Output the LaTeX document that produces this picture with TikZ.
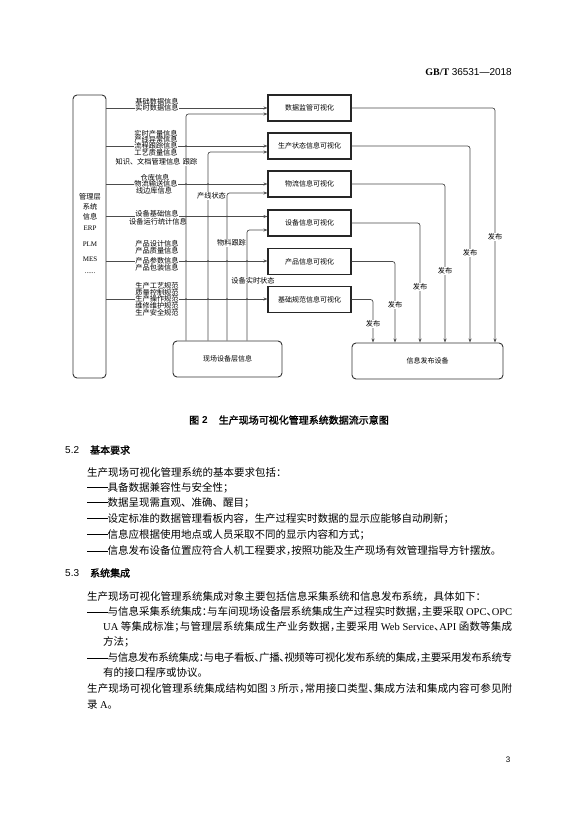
\documentclass[tikz,border=0pt]{standalone}
\usepackage{fontspec}
\setmainfont{Liberation Serif}
\newfontfamily\arial{Liberation Sans}
\newfontfamily\cjk{Noto Sans CJK SC}
\newfontfamily\cjkt{Noto Sans CJK SC}[RawFeature={+halt}]
\newfontfamily\cjkb{Noto Sans CJK SC}[FakeBold=1.5]
\usetikzlibrary{arrows.meta}
\XeTeXinterchartokenstate=1
\newcount\cjkcnt
\cjkcnt="4E00
\loop \XeTeXcharclass\cjkcnt=1 \advance\cjkcnt by 1 \ifnum\cjkcnt<"A000 \repeat
\cjkcnt="3000
\loop \XeTeXcharclass\cjkcnt=1 \advance\cjkcnt by 1 \ifnum\cjkcnt<"3040 \repeat
\cjkcnt="FF00
\loop \XeTeXcharclass\cjkcnt=1 \advance\cjkcnt by 1 \ifnum\cjkcnt<"FFF0 \repeat
\XeTeXinterchartoks 1 1 = {\hskip 0pt plus 2pt minus 0.6pt}
\newcommand\dfont{\fontsize{7.2}{7.5}\selectfont\cjk}
\newcommand\bfont{\fontsize{7}{7.5}\selectfont\cjk}
\newcommand\jline[1]{\makebox[425pt][s]{\cjkt #1}}
\newcommand\jlinei[1]{\makebox[409pt][s]{\cjkt #1}}
\newcommand\dashs{\rule[3.6pt]{20.5pt}{0.55pt}}
\tikzset{
  line/.style={draw=black!70, line width=0.7pt},
  flow/.style={line, -{Stealth[length=4pt,width=3pt]}},
  vbox/.style={draw=black!85, line width=1.1pt, minimum width=83pt, minimum height=26pt, inner sep=0pt, font=\bfont},
  rbox/.style={draw=black!80, line width=0.9pt, rounded corners=4pt, inner sep=0pt, font=\bfont},
  lab/.style={inner sep=0.2pt, font=\dfont},
  wlab/.style={lab, fill=white},
  ltxt/.style={inner sep=0pt, font=\fontsize{7}{7.5}\selectfont\rmfamily},
  body/.style={anchor=west, inner sep=0pt, font=\fontsize{10.5}{12}\selectfont\cjk},
  head/.style={anchor=west, inner sep=0pt, font=\fontsize{10}{12}\selectfont},
  dot/.style={fill=black!70},
}
\begin{document}
\begin{tikzpicture}[x=1pt,y=-1pt]
\fill[white] (0,0) rectangle (572,814);
\useasboundingbox (0,0) rectangle (572,814);

% header
\node[anchor=east, inner sep=0pt, font=\fontsize{10}{12}\selectfont] (hdr) at (512,72) {\bfseries GB/T {\arial\mdseries 36531—2018}};

% helper coordinates
\coordinate (h1) at (0,108);
\coordinate (h2) at (0,146);
\coordinate (h3) at (0,184);
\coordinate (h4) at (0,216.5);
\coordinate (h5) at (0,261);
\coordinate (h6) at (0,299);
\coordinate (e1) at (0,114);
\coordinate (e2) at (0,152);
\coordinate (e3) at (0,193);
\coordinate (e4) at (0,230);
\coordinate (v1) at (186,0);
\coordinate (v2) at (208,0);
\coordinate (v3) at (227,0);
\coordinate (v4) at (247,0);
\coordinate (o1) at (495,0);
\coordinate (o2) at (470,0);
\coordinate (o3) at (445,0);
\coordinate (o4) at (420,0);
\coordinate (o5) at (395,0);
\coordinate (o6) at (373,0);

% boxes
\node[rbox, minimum width=33pt, minimum height=283pt] (mgmt) at (89.5,236.5) {};
\node[vbox] (b1) at (309.5,108) {数据监管可视化};
\node[vbox] (b2) at (309.5,146) {生产状态信息可视化};
\node[vbox] (b3) at (309.5,184) {物流信息可视化};
\node[vbox] (b4) at (309.5,223) {设备信息可视化};
\node[vbox] (b5) at (309.5,261.5) {产品信息可视化};
\node[vbox] (b6) at (309.5,299.5) {基础规范信息可视化};
\node[rbox, minimum width=109pt, minimum height=36pt] (field) at (227.5,359) {现场设备层信息};
\node[rbox, minimum width=151pt, minimum height=36pt] (pub) at (427.5,361) {信息发布设备};

% left box text
\node[lab] (m1) at (90,197) {管理层};
\node[lab] (m2) at (90,207) {系统};
\node[lab] (m3) at (90,217) {信息};
\node[ltxt] (m4) at (90,228) {ERP};
\node[ltxt] (m5) at (90,244) {PLM};
\node[ltxt] (m6) at (90,259) {MES};
\node[ltxt] (m7) at (90,273) {......};

% lines from management box
\draw[flow] (mgmt.east |- h1) -- (b1.west |- h1);
\draw[flow] (mgmt.east |- h2) -- (b2.west |- h2);
\draw[flow] (mgmt.east |- h3) -- (b3.west |- h3);
\draw[flow] (mgmt.east |- h4) -- (b4.west |- h4);
\draw[flow] (mgmt.east |- h5) -- (b5.west |- h5);
\draw[flow] (mgmt.east |- h6) -- (b6.west |- h6);

% lines from field box
\draw[flow, rounded corners=2.5pt] (field.north -| v1) |- (b1.west |- e1);
\draw[flow, rounded corners=2.5pt] (field.north -| v2) |- (b2.west |- e2);
\draw[flow, rounded corners=2.5pt] (field.north -| v3) |- (b3.west |- e3);
\draw[flow, rounded corners=2.5pt] (field.north -| v4) |- (b4.west |- e4);

% outputs
\draw[flow, rounded corners=2.5pt] (b1.east) -| (pub.north -| o1);
\draw[flow, rounded corners=2.5pt] (b2.east) -| (pub.north -| o2);
\draw[flow, rounded corners=2.5pt] (b3.east) -| (pub.north -| o3);
\draw[flow, rounded corners=2.5pt] (b4.east) -| (pub.north -| o4);
\draw[flow, rounded corners=2.5pt] (b5.east) -| (pub.north -| o5);
\draw[flow, rounded corners=2.5pt] (b6.east) -| (pub.north -| o6);

% junction dots
\foreach \p in {v1 |- h2, v1 |- h3, v2 |- h3, v1 |- h4, v2 |- h4, v3 |- h4, v1 |- h5, v2 |- h5, v3 |- h5, v4 |- h5, v1 |- h6, v2 |- h6, v3 |- h6, v4 |- h6}
  \fill[dot] (\p) circle (0.8pt);

% labels on left lines
\node[lab] (a1) at (157,101.5) {基础数据信息};
\node[wlab] (a2) at (157,108) {实时数据信息};
\node[lab] (c1) at (156,134) {实时产量信息};
\node[lab] (c2) at (156,140) {产线异常信息};
\node[wlab] (c3) at (156,146) {流程跟踪信息};
\node[lab] (c4) at (156,152.5) {工艺质量信息};
\node[lab] (c5) at (148,161.5) {知识、文档管理信息};
\node[lab] (d1) at (155,177.5) {仓库信息};
\node[wlab] (d2) at (156,184) {物流输送信息};
\node[lab] (d3) at (154,191) {线边库信息};
\node[wlab] (f1) at (157,214) {设备基础信息};
\node[lab] (f2) at (158,221.5) {设备运行统计信息};
\node[lab] (g1) at (157,244) {产品设计信息};
\node[lab] (g2) at (157,251) {产品质量信息};
\node[wlab] (g3) at (157,261) {产品参数信息};
\node[lab] (g4) at (157,268) {产品包装信息};
\node[lab] (k1) at (157,286) {生产工艺规范};
\node[lab] (k2) at (157,292.5) {质量控制规范};
\node[wlab] (k3) at (157,299) {生产操作规范};
\node[lab] (k4) at (157,306) {维修维护规范};
\node[lab] (k5) at (157,313) {生产安全规范};

% labels on vertical lines
\node[wlab] (s1) at (190,162) {跟踪};
\node[wlab] (s2) at (211.5,196) {产线状态};
\node[wlab] (s3) at (231.5,243) {物料跟踪};
\node[wlab] (s4) at (253,280.5) {设备实时状态};

% publish labels
\node[wlab] (p1) at (495,237) {发布};
\node[wlab] (p2) at (470,253) {发布};
\node[wlab] (p3) at (445,271) {发布};
\node[wlab] (p4) at (420,287) {发布};
\node[wlab] (p5) at (395,305) {发布};
\node[wlab] (p6) at (373,324) {发布};

% caption
\node[inner sep=0pt, font=\fontsize{10}{12}\selectfont] (cap) at (289,420) {{\cjkb 图}\hspace{3pt}{\arial\bfseries 2}\hspace{11pt}{\cjkb 生产现场可视化管理系统数据流示意图}};

% section 5.2
\node[head] (s52) at (65,450) {{\arial 5.2}\hspace{11pt}{\cjkb 基本要求}};
\node[body] (t1) at (87,473) {生产现场可视化管理系统的基本要求包括：};
\node[body] (t2) at (87,488) {\dashs 具备数据兼容性与安全性；};
\node[body] (t3) at (87,503) {\dashs 数据呈现需直观、准确、醒目；};
\node[body] (t4) at (87,519) {\dashs 设定标准的数据管理看板内容，生产过程实时数据的显示应能够自动刷新；};
\node[body] (t5) at (87,535) {\dashs 信息应根据使用地点或人员采取不同的显示内容和方式；};
\node[body] (t6) at (87,551) {\dashs{\cjkt 信息发布设备位置应符合人机工程要求，按照功能及生产现场有效管理指导方针摆放。}};

% section 5.3
\node[head] (s53) at (65,573) {{\arial 5.3}\hspace{11pt}{\cjkb 系统集成}};
\node[body] (u1) at (87,597) {生产现场可视化管理系统集成对象主要包括信息采集系统和信息发布系统，具体如下：};
\node[body] (u2) at (87,612) {\jline{\dashs 与信息采集系统集成：与车间现场设备层系统集成生产过程实时数据，主要采取 {\rmfamily OPC}、{\rmfamily OPC}}};
\node[body] (u3) at (103,627) {\jlinei{{\rmfamily UA} 等集成标准；与管理层系统集成生产业务数据，主要采用 {\rmfamily Web Service}、{\rmfamily API} 函数等集成}};
\node[body] (u4) at (103,642) {方法；};
\node[body] (u5) at (87,658) {\jline{\dashs 与信息发布系统集成：与电子看板、广播、视频等可视化发布系统的集成，主要采用发布系统专}};
\node[body] (u6) at (103,673) {有的接口程序或协议。};
\node[body] (u7) at (87,689) {\jline{生产现场可视化管理系统集成结构如图 {\rmfamily 3} 所示，常用接口类型、集成方法和集成内容可参见附}};
\node[body] (u8) at (87,705) {录 {\rmfamily A}。};

% page number
\node[inner sep=0pt, font=\fontsize{8}{10}\selectfont\arial] (pg) at (508,760) {3};
\end{tikzpicture}
\end{document}
